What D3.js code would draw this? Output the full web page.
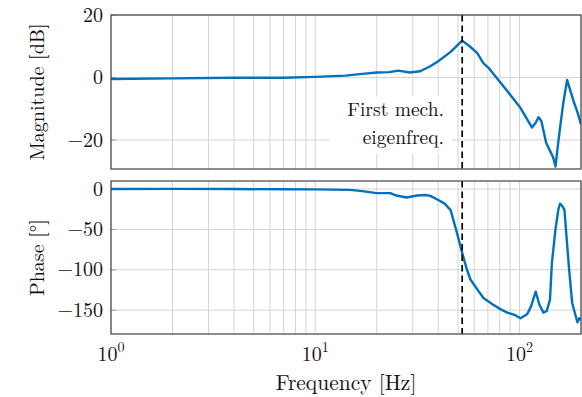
<!DOCTYPE html>
<html>
<head>
<meta charset="utf-8">
<script src="https://cdn.jsdelivr.net/npm/d3@7"></script>
<style>
  body { margin: 0; background: #fff; }
</style>
</head>
<body>
<div id="chart"></div>
<script>
var svgWidth = 582;
var svgHeight = 397;

// magnitude trace (Hz, dB)
var freqMag = [1, 2, 4, 7, 10, 14, 18, 20, 23, 25.5, 29, 32.6, 36.6, 40, 46, 52.4, 57, 62, 66.5, 70.5, 80.8, 90, 101, 115, 120, 124, 128, 135, 141, 146, 150, 154, 158, 164, 171, 178, 185, 192, 200];
var magDb = [-0.5, -0.3, -0.1, -0.1, 0.2, 0.6, 1.3, 1.6, 1.7, 2.2, 1.6, 2.0, 3.6, 5.2, 8.2, 11.8, 10.0, 7.9, 4.6, 3.1, -1.7, -5.5, -9.7, -16, -14.5, -12.7, -14, -20.9, -23.5, -25.5, -28.5, -22, -16, -8, -0.8, -4.5, -8.1, -11, -15];

// phase trace (Hz, deg)
var freqPhase = [1, 2, 4, 7, 10, 14.8, 17, 20, 23.3, 25, 28, 31.5, 34.6, 36.6, 40, 43, 46, 49.5, 52.4, 55, 57.5, 62, 66.6, 74, 81, 87, 95, 101, 109, 114, 120, 125, 131, 136, 141, 144, 150, 155, 158, 162, 166, 170, 175, 181, 186, 192, 196, 200];
var phaseDeg = [0, 0.3, 0, -0.3, -0.4, -1, -2.5, -5, -5, -8, -10.5, -8, -7.4, -8.5, -13.6, -18, -26, -55, -79, -98, -112, -124, -135, -143, -149, -153, -156, -160, -155, -145, -127, -143, -153, -151, -137, -92, -50, -25, -18, -21, -26, -60, -100, -141, -152, -165, -160, -162];

var eigenFreq = 52.4;
var magTicks = [-20, 0, 20];
var phaseTicks = [-150, -100, -50, 0];
var xDecades = [1, 10, 100];
var noteLines = ["First mech.", "eigenfreq."];

var left = 111, right = 581;
var magTop = 15, magBottom = 169;
var phTop = 181, phBottom = 334;
var fs = 20;

var svg = d3.select("#chart").append("svg")
  .attr("width", svgWidth)
  .attr("height", svgHeight)
  .attr("font-family", "'Latin Modern Roman', 'Liberation Serif', serif")
  .attr("fill", "#111");

var x = d3.scaleLog().domain([1, 200]).range([left, right]);
var yMag = d3.scaleLinear().domain([-29.3, 20]).range([magBottom, magTop]);
var yPh = d3.scaleLinear().domain([-179.5, 10]).range([phBottom, phTop]);

// minor x grid values 1..9 per decade
var xGrid = [];
xDecades.forEach(function(d) {
  for (var k = 1; k < 10; k++) {
    if (d * k <= 200) xGrid.push(d * k);
  }
});

function drawPanel(y, yTicks, top, bottom, xs, ys, label, clipId) {
  var g = svg.append("g");

  g.selectAll(".vgrid").data(xGrid).enter().append("line")
    .attr("x1", d => x(d)).attr("x2", d => x(d))
    .attr("y1", top).attr("y2", bottom)
    .attr("stroke", "#d4d4d4").attr("stroke-width", 1);

  g.selectAll(".hgrid").data(yTicks).enter().append("line")
    .attr("x1", left).attr("x2", right)
    .attr("y1", d => y(d)).attr("y2", d => y(d))
    .attr("stroke", "#d4d4d4").attr("stroke-width", 1);

  // tick labels
  g.selectAll(".ylab").data(yTicks).enter().append("text")
    .attr("x", left - 8)
    .attr("y", d => y(d))
    .attr("dy", "0.33em")
    .attr("text-anchor", "end")
    .attr("font-size", fs)
    .text(d => d < 0 ? "\u2212" + Math.abs(d) : d);

  // small inner ticks
  g.selectAll(".ytick").data(yTicks).enter().append("line")
    .attr("x1", left).attr("x2", left + 5)
    .attr("y1", d => y(d)).attr("y2", d => y(d))
    .attr("stroke", "#999");

  svg.append("clipPath").attr("id", clipId)
    .append("rect").attr("x", left).attr("y", top)
    .attr("width", right - left).attr("height", bottom - top);

  g.append("g").attr("clip-path", "url(#" + clipId + ")")
    .datum(xs.map((f, i) => [f, ys[i]]))
    .append("path")
    .attr("fill", "none")
    .attr("stroke", "#0072BD")
    .attr("stroke-width", 2.4)
    .attr("stroke-linejoin", "round")
    .attr("d", d3.line().x(d => x(d[0])).y(d => y(d[1])));

  // y axis title
  g.append("text")
    .attr("transform", "translate(44," + ((top + bottom) / 2) + ") rotate(-90)")
    .attr("text-anchor", "middle")
    .attr("font-size", fs)
    .text(label);

  return g;
}

var gMag = drawPanel(yMag, magTicks, magTop, magBottom, freqMag, magDb, "Magnitude [dB]", "clipMag");
var gPh = drawPanel(yPh, phaseTicks, phTop, phBottom, freqPhase, phaseDeg, "Phase [\u00B0]", "clipPh");

// annotation box
gMag.append("rect")
  .attr("x", 329).attr("y", 96)
  .attr("width", 123).attr("height", 58)
  .attr("fill", "#fff");

// two-line note
noteLines.forEach(function(t, i) {
  gMag.append("text")
    .attr("x", 444)
    .attr("y", 116 + i * 28)
    .attr("text-anchor", "end")
    .attr("font-size", 19.5)
    .text(t);
});

// dashed eigenfrequency marker
[[magTop, magBottom], [phTop, phBottom]].forEach(function(r) {
  svg.append("line")
    .attr("x1", x(eigenFreq)).attr("x2", x(eigenFreq))
    .attr("y1", r[0]).attr("y2", r[1])
    .attr("stroke", "#000")
    .attr("stroke-width", 1.7)
    .attr("stroke-dasharray", "6.5,4");
});

// frames
[[magTop, magBottom], [phTop, phBottom]].forEach(function(r) {
  svg.append("rect")
    .attr("x", left).attr("y", r[0])
    .attr("width", right - left).attr("height", r[1] - r[0])
    .attr("fill", "none")
    .attr("stroke", "#444")
    .attr("stroke-width", 1.2);
});

// x tick labels with superscripts
var xl = svg.selectAll(".xlab").data(xDecades).enter().append("text")
  .attr("x", d => x(d))
  .attr("y", 361)
  .attr("text-anchor", "middle")
  .attr("font-size", fs);
xl.append("tspan").text("10");
xl.append("tspan").attr("dy", -9).attr("font-size", 14)
  .text(d => Math.round(Math.log10(d)));

svg.append("text")
  .attr("x", 346)
  .attr("y", 390)
  .attr("text-anchor", "middle")
  .attr("font-size", 21.5)
  .text("Frequency [Hz]");
</script>
</body>
</html>
